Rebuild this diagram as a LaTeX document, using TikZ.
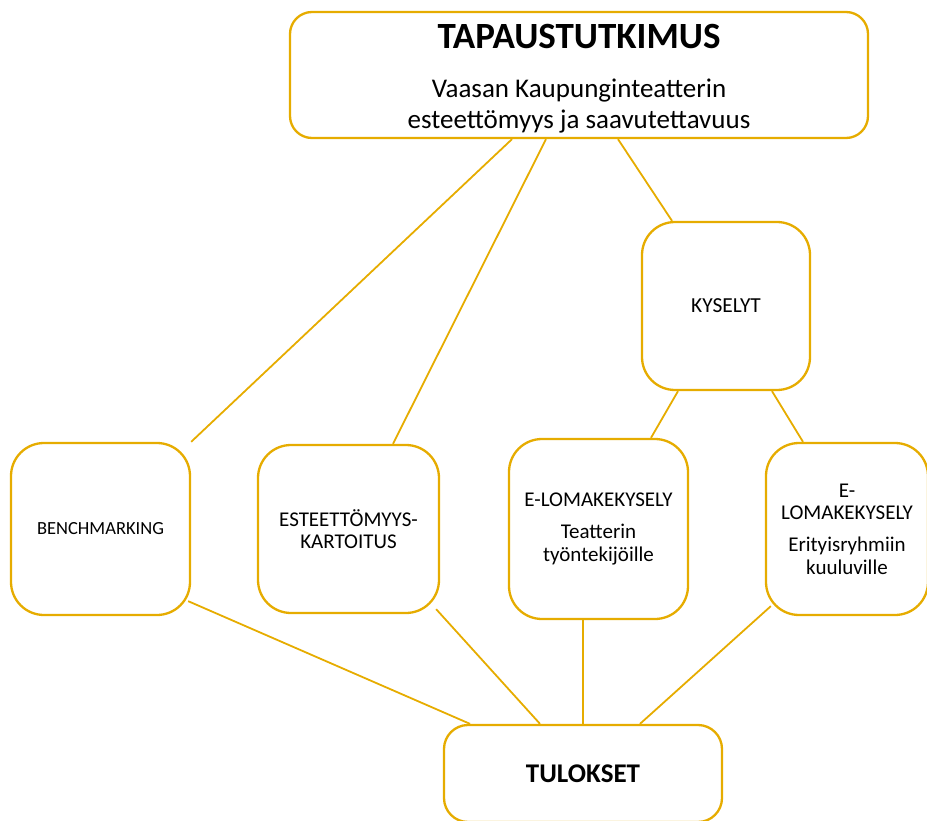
\documentclass[tikz,border=0pt]{standalone}
\usepackage{fontspec}
\setmainfont{Carlito}
\definecolor{gold}{RGB}{230,172,0}
\begin{document}
\begin{tikzpicture}[x=1pt,y=-1pt,
  box/.style={draw=gold, line width=2.3pt, fill=white, rounded corners=#1, inner sep=0pt, align=center, text=black},
  box/.default=33pt,
  conn/.style={draw=gold, line width=1.8pt},
  small/.style={font=\fontsize{21}{22.5}\selectfont}]
\useasboundingbox (0,0) rectangle (927,821);
\node[box=22pt, minimum width=578pt, minimum height=126pt, font=\fontsize{27}{31}\selectfont] (top) at (579,75)
  {\rule{0pt}{31.2pt}{\fontsize{37}{42}\selectfont\bfseries TAPAUSTUTKIMUS}\\[18pt]Vaasan Kaupunginteatterin\\esteettömyys ja saavutettavuus};
\node[box, minimum width=168pt, minimum height=168pt, font=\fontsize{21.4}{23}\selectfont] (kys) at (726,306) {KYSELYT};
\node[box, minimum width=179pt, minimum height=172pt, font=\fontsize{18.5}{23}\selectfont] (bench) at (100.5,529) {BENCHMARKING};
\node[box, minimum width=181pt, minimum height=168pt, small] (est) at (348.5,529) {ESTEETTÖMYYS-\\KARTOITUS};
\node[box, minimum width=179pt, minimum height=180pt, small] (el1) at (598.5,529) {E-LOMAKEKYSELY\\[9.5pt]Teatterin\\työntekijöille};
\node[box, minimum width=162pt, minimum height=172pt, small] (el2) at (847,529) {E-\\LOMAKEKYSELY\\[9.5pt]Erityisryhmiin\\kuuluville};
\node[box=24pt, minimum width=278pt, minimum height=97pt, font=\fontsize{27}{30}\selectfont\bfseries] (tul) at (583,773.5) {TULOKSET};
\draw[conn] ([xshift=-67pt]top.south) -- (bench.north east);
\draw[conn] ([xshift=-33pt]top.south) -- ([xshift=44.5pt]est.north);
\draw[conn] ([xshift=39pt]top.south) -- ([xshift=-54pt]kys.north);
\draw[conn] ([xshift=-48pt]kys.south) -- ([xshift=52.5pt]el1.north);
\draw[conn] ([xshift=46pt]kys.south) -- ([xshift=-44pt]el2.north);
\draw[conn] ([shift={(-3pt,15pt)}]bench.south east) -- ([xshift=-113pt]tul.north);
\draw[conn] ([shift={(-4pt,5pt)}]est.south east) -- ([xshift=-43pt]tul.north);
\draw[conn] ([xshift=-15.5pt]el1.south) -- (tul.north);
\draw[conn] ([shift={(6pt,10pt)}]el2.south west) -- ([xshift=57pt]tul.north);
\end{tikzpicture}
\end{document}
